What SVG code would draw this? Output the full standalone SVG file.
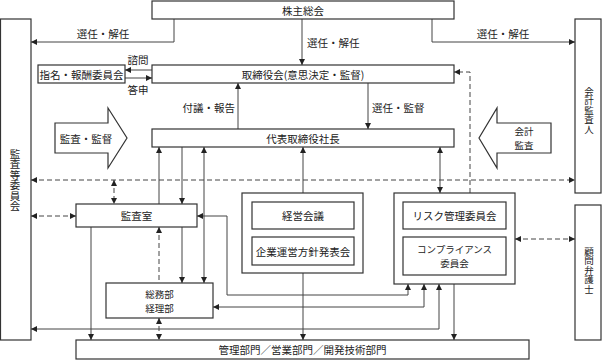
<svg xmlns="http://www.w3.org/2000/svg" width="606" height="360" viewBox="0 0 606 360">
<style>
.box{fill:#fff;stroke:#333;stroke-width:1.2}
.t{font-family:"Noto Sans CJK JP",sans-serif;font-size:10.5px;fill:#222;text-anchor:middle;dominant-baseline:central}
.vt{writing-mode:vertical-rl;text-orientation:upright}
.v{font-size:9.5px}
.s{text-anchor:start}
.e{text-anchor:end}
.c{fill:none;stroke:#444;stroke-width:1}
.d{stroke-dasharray:5 3}
.a{marker-end:url(#ah)}
.b{marker-start:url(#ah);marker-end:url(#ah)}
.u{marker-start:url(#ah)}
</style>
<defs>
<marker id="ah" viewBox="0 0 6 6" refX="6" refY="3" markerWidth="6" markerHeight="6" markerUnits="userSpaceOnUse" orient="auto-start-reverse">
<path d="M0,0 L6,3 L0,6 z" fill="#222"/>
</marker>
</defs>
<rect width="606" height="360" fill="#fff"/>

<g id="connectors">
<path class="c a" d="M174,19 V42 H31"/>
<path class="c a" d="M302,19 V65"/>
<path class="c a" d="M432,19 V42 H575"/>
<path class="c a" d="M152,70 H125"/>
<path class="c a" d="M125,78 H152"/>
<path class="c a" d="M238,129 V83"/>
<path class="c a" d="M368,83 V129"/>
<path class="c d a" d="M470,193 V72 H454"/>
<path class="c d b" d="M31,180 H575"/>
<path class="c d b" d="M114,180 V204"/>
<path class="c d b" d="M31,216 H76"/>
<path class="c a" d="M159,204 V147"/>
<path class="c a" d="M182,147 V204"/>
<path class="c a" d="M182,227 V283"/>
<path class="c b" d="M204,147 V283"/>
<path class="c b" d="M197,216 H227 V295 H408 V284"/>
<path class="c b" d="M213,307 H424 V284"/>
<path class="c b" d="M31,329 H439 V284"/>
<path class="c a" d="M91,227 V340"/>
<path class="c d u" d="M159,227 V283"/>
<path class="c d b" d="M159,318 V340"/>
<path class="c a" d="M303,193 V147"/>
<path class="c a" d="M303,273 V340"/>
<path class="c b" d="M440,147 V193"/>
<path class="c d b" d="M515,239 H575"/>
<path class="c a" d="M454,284 V340"/>
<text class="t" x="103" y="33">選任・解任</text>
<text class="t s" x="307" y="42">選任・解任</text>
<text class="t" x="503" y="33">選任・解任</text>
<text class="t" x="138" y="59">諮問</text>
<text class="t" x="138" y="89">答申</text>
<text class="t e" x="235" y="107">付議・報告</text>
<text class="t s" x="372" y="107">選任・監督</text>
</g>

<g id="arrow-kansa">
<polygon class="box" points="55,123 108,123 108,108 127,138 108,168 108,153 55,153"/>
<text class="t" x="86" y="138">監査・監督</text>
</g>
<g id="arrow-kaikei">
<polygon class="box" points="551,123 497,123 497,108 479,138 497,168 497,153 551,153"/>
<text class="t v" x="524" y="131">会計</text>
<text class="t v" x="524" y="145">監査</text>
</g>

<g id="kabunushi">
<rect class="box" x="152" y="1" width="302" height="18"/>
<text class="t" x="303" y="10">株主総会</text>
</g>
<g id="kansatou-iinkai">
<rect class="box" x="0.5" y="19" width="30.5" height="321"/>
<text class="t vt" x="15" y="180">監査等委員会</text>
</g>
<g id="kaikei-kansanin">
<rect class="box" x="575" y="19" width="26" height="174"/>
<text class="t vt v" x="589" y="110">会計監査人</text>
</g>
<g id="komon-bengoshi">
<rect class="box" x="575" y="205" width="26" height="135"/>
<text class="t vt v" x="589" y="270">顧問弁護士</text>
</g>
<g id="torishimariyakukai">
<rect class="box" x="152" y="65" width="302" height="18"/>
<text class="t" x="303" y="74">取締役会(意思決定・監督)</text>
</g>
<g id="shimei-houshuu">
<rect class="box" x="38" y="65" width="87" height="18"/>
<text class="t" x="81.5" y="74">指名・報酬委員会</text>
</g>
<g id="shachou">
<rect class="box" x="152" y="129" width="302" height="18"/>
<text class="t" x="303" y="138">代表取締役社長</text>
</g>
<g id="kansashitsu">
<rect class="box" x="76" y="204" width="121" height="23"/>
<text class="t" x="136.5" y="215.5">監査室</text>
</g>
<g id="soumubu">
<rect class="box" x="106" y="283" width="107" height="35"/>
<text class="t v" x="159.5" y="293.5">総務部</text>
<text class="t v" x="159.5" y="307.5">経理部</text>
</g>
<g id="keiei-group">
<rect class="box" x="242" y="193" width="121" height="80"/>
<rect class="box" x="252" y="202" width="102" height="27"/>
<text class="t" x="303" y="215.5">経営会議</text>
<rect class="box" x="252" y="237" width="102" height="28"/>
<text class="t" x="303" y="251">企業運営方針発表会</text>
</g>
<g id="risk-group">
<rect class="box" x="394" y="193" width="121" height="91"/>
<rect class="box" x="403" y="202" width="103" height="27"/>
<text class="t" x="454.5" y="215.5">リスク管理委員会</text>
<rect class="box" x="403" y="237" width="103" height="38"/>
<text class="t v" x="454.5" y="249">コンプライアンス</text>
<text class="t v" x="454.5" y="263">委員会</text>
</g>
<g id="bumon">
<rect class="box" x="76" y="340" width="453" height="19"/>
<text class="t" x="302.5" y="349.5">管理部門／営業部門／開発技術部門</text>
</g>
</svg>
